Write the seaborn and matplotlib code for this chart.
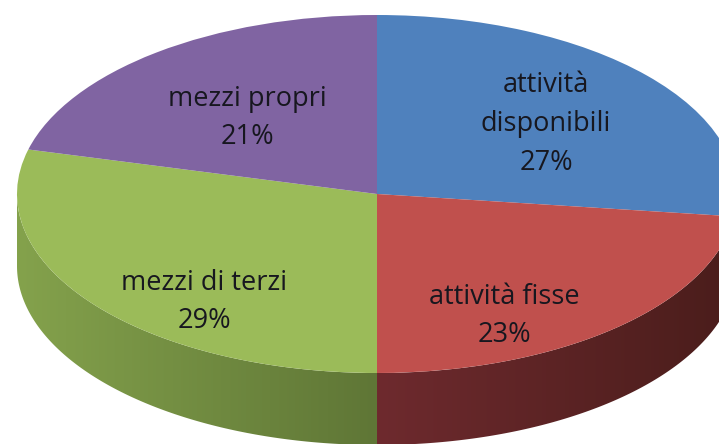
import numpy as np
import matplotlib
matplotlib.use("Agg")
import matplotlib.pyplot as plt
from matplotlib.colors import LinearSegmentedColormap
from matplotlib.patches import Polygon
import seaborn as sns

# Balance-sheet shares, clockwise from twelve o'clock
categories = ["attività\ndisponibili", "attività fisse", "mezzi di terzi", "mezzi propri"]
shares = [27, 23, 29, 21]
face_colors = ["#4F81BD", "#C0504D", "#9BBB59", "#8064A2"]
wall_shades = [
    ("#2A4766", "#2A4766"),
    ("#6E2A2E", "#4A1D1B"),
    ("#84A24C", "#5F7636"),
    ("#4F3E66", "#4F3E66"),
]

# Label anchors as pixel positions on the canvas
label_pixels = [(546, 124), (504, 316), (204, 302), (247, 118)]

WIDTH, HEIGHT = 719, 444
CX, CY, RX, RY = 377, 194, 360, 179
DEPTH = 72 / RY

sns.set_theme(style="white")
plt.rcParams["font.family"] = ["Open Sans", "DejaVu Sans"]

fig = plt.figure(figsize=(WIDTH / 100, HEIGHT / 100), dpi=100)
ax = fig.add_axes([0, 0, 1, 1])
xlim = (-CX / RX, (WIDTH - CX) / RX)
ylim = ((CY - HEIGHT) / RY, CY / RY)

# Side wall of the disc: one shaded band per slice, on the near half only
palette = sns.color_palette(face_colors)
edges = 90 - np.cumsum([0] + shares) * 3.6
for k in range(len(shares)):
    high, low = edges[k] % 360, edges[k + 1] % 360
    if high <= low:
        high += 360
    start, stop = max(low, 180), min(high, 360)
    if start >= stop:
        continue
    theta = np.radians(np.linspace(start, stop, 120))
    x, y = np.cos(theta), np.sin(theta)
    outline = np.r_[np.c_[x, y], np.c_[x[::-1], y[::-1] - DEPTH]]
    band = Polygon(outline, closed=True, transform=ax.transData, fc="none", ec="none")
    ax.add_patch(band)
    cmap = LinearSegmentedColormap.from_list("wall", list(wall_shades[k]))
    image = ax.imshow(
        np.linspace(0, 1, 256)[None, :], cmap=cmap, aspect="auto", zorder=1,
        extent=(x.min(), x.max(), y.min() - DEPTH, y.max()),
    )
    image.set_clip_path(band)

# Top face of the disc
wedges, _ = ax.pie(shares, colors=palette, startangle=90, counterclock=False, radius=1,
                   wedgeprops={"linewidth": 0})
for wedge in wedges:
    wedge.set_zorder(2)
ax.set_aspect("auto")
ax.set_xlim(xlim)
ax.set_ylim(ylim)
ax.axis("off")

for name, share, (px, py) in zip(categories, shares, label_pixels):
    ax.text((px - CX) / RX, (CY - py) / RY, f"{name}\n{share}%", ha="center", va="center",
            fontsize=19.5, color="#17171F", linespacing=1.52, zorder=3)

fig.savefig("out.png", dpi=100)
